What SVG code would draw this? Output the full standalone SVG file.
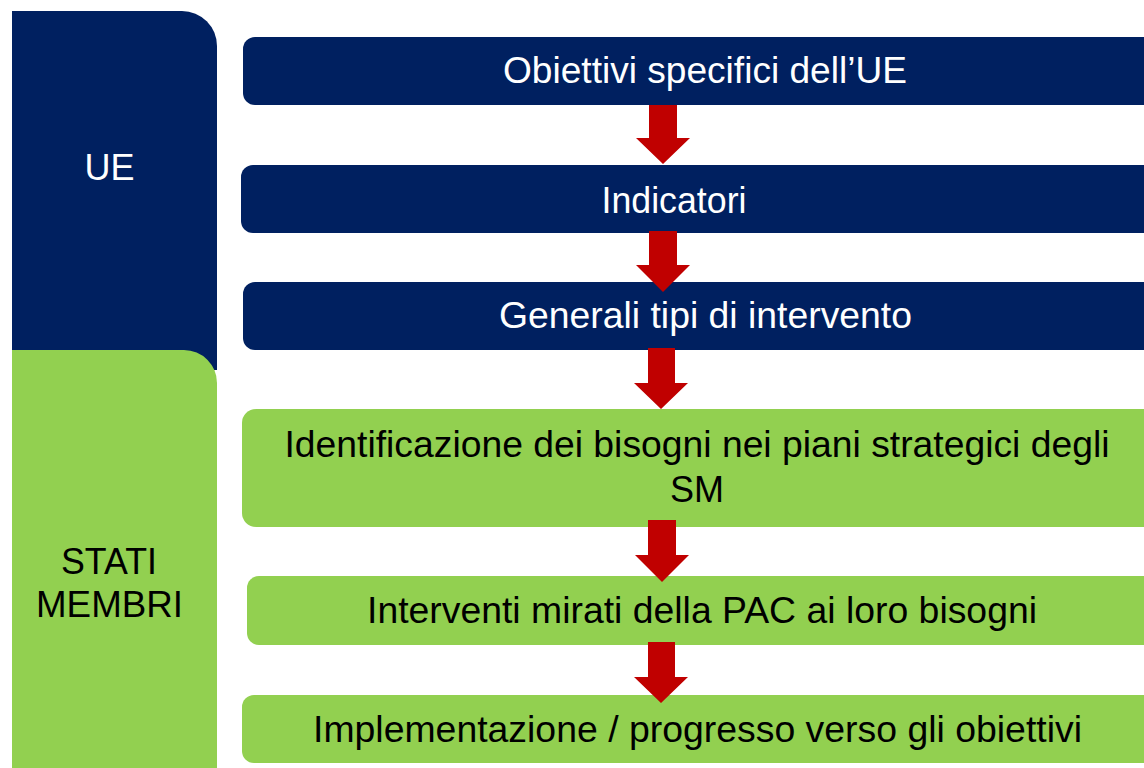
<svg xmlns="http://www.w3.org/2000/svg" width="1144" height="768" viewBox="0 0 1144 768">
<style>
.navy{fill:#002060}
.green{fill:#92D050}
.arrow{fill:#C00000}
.tw{font-family:"Liberation Sans",Arial,sans-serif;font-size:36px;fill:#ffffff}
.tb{font-family:"Liberation Sans",Arial,sans-serif;font-size:37px;fill:#000000}
</style>
<rect width="1144" height="768" fill="#ffffff"/>
<g id="panel-ue">
<path class="navy" d="M12,11 H182 A35,35 0 0 1 217,46 V370 H12 Z"/>
<text class="tw" x="109.5" y="180" text-anchor="middle">UE</text>
</g>
<g id="panel-sm">
<path class="green" d="M12,350 H184 A33,33 0 0 1 217,383 V780 H12 Z"/>
<text class="tb" x="109" y="574" text-anchor="middle" textLength="96" lengthAdjust="spacingAndGlyphs">STATI</text>
<text class="tb" x="109.5" y="617" text-anchor="middle" textLength="147" lengthAdjust="spacingAndGlyphs">MEMBRI</text>
</g>
<g id="box1">
<rect class="navy" x="243" y="37" width="940" height="68" rx="12"/>
<text class="tw" x="705" y="83" text-anchor="middle" textLength="404" lengthAdjust="spacingAndGlyphs">Obiettivi specifici dell’UE</text>
</g>
<g id="box2">
<rect class="navy" x="241" y="165" width="940" height="68" rx="12"/>
<text class="tw" x="674" y="213" text-anchor="middle" textLength="145" lengthAdjust="spacingAndGlyphs">Indicatori</text>
</g>
<g id="box3">
<rect class="navy" x="243" y="282" width="940" height="68" rx="12"/>
<text class="tw" x="705.5" y="328" text-anchor="middle" textLength="413" lengthAdjust="spacingAndGlyphs">Generali tipi di intervento</text>
</g>
<g id="box4">
<rect class="green" x="242" y="409" width="940" height="118" rx="14"/>
<text class="tb" x="697" y="457" text-anchor="middle" textLength="825" lengthAdjust="spacingAndGlyphs">Identificazione dei bisogni nei piani strategici degli</text>
<text class="tb" x="697" y="502" text-anchor="middle" textLength="54" lengthAdjust="spacingAndGlyphs">SM</text>
</g>
<g id="box5">
<rect class="green" x="247" y="576" width="940" height="69" rx="12"/>
<text class="tb" x="702" y="623" text-anchor="middle" textLength="670" lengthAdjust="spacingAndGlyphs">Interventi mirati della PAC ai loro bisogni</text>
</g>
<g id="box6">
<rect class="green" x="242" y="695" width="940" height="68" rx="12"/>
<text class="tb" x="697.5" y="742" text-anchor="middle" textLength="769" lengthAdjust="spacingAndGlyphs">Implementazione / progresso verso gli obiettivi</text>
</g>
<g id="connectors">
<polygon class="arrow" points="649,105 677,105 677,138 690,138 663,164 636,138 649,138"/>
<polygon class="arrow" points="649,231 677,231 677,265 690,265 663,292 636,265 649,265"/>
<polygon class="arrow" points="648,348 675,348 675,383 688,383 661,409 634,383 648,383"/>
<polygon class="arrow" points="648,520 676,520 676,555 689,555 662,582 635,555 648,555"/>
<polygon class="arrow" points="648,642 675,642 675,677 688,677 661,703 634,677 648,677"/>
</g>
</svg>
